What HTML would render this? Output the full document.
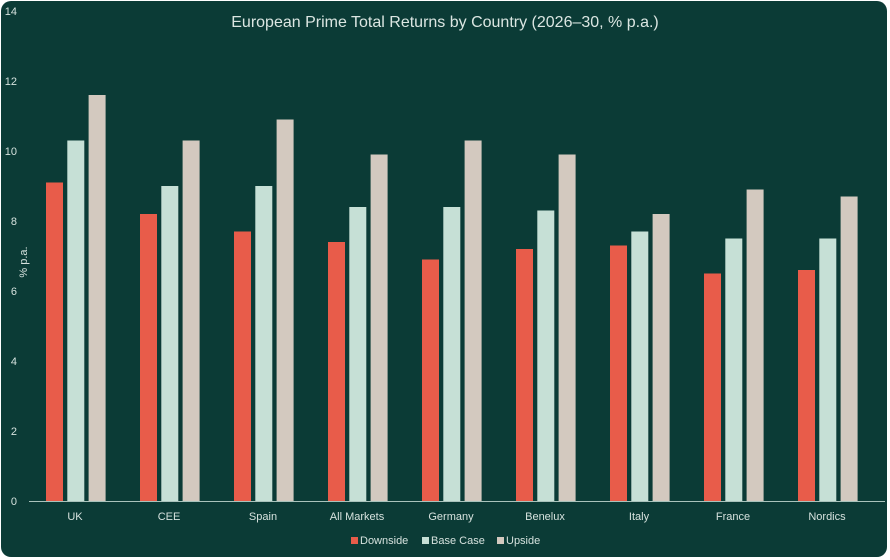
<!DOCTYPE html>
<html><head><style>
body{margin:0;background:#fff;}
.card{position:absolute;left:1px;top:1px;width:886px;height:556px;background:#0b3b36;border-radius:10px;overflow:hidden;}
text{font-family:"Liberation Sans",sans-serif;}
</style></head><body>
<div class="card"></div>
<svg width="890" height="560" style="position:absolute;left:0;top:0">
<text x="445" y="27" text-anchor="middle" fill="#dbe6e2" font-size="16">European Prime Total Returns by Country (2026–30, % p.a.)</text>
<g fill="#d6e2de" font-size="11" text-anchor="end">
<text x="17" y="505">0</text><text x="17" y="435">2</text><text x="17" y="365">4</text><text x="17" y="295">6</text><text x="17" y="225">8</text><text x="17" y="155">10</text><text x="17" y="85">12</text><text x="17" y="15">14</text>
</g>
<text x="27" y="262" fill="#d6e2de" font-size="11" text-anchor="middle" transform="rotate(-90 27 262)">% p.a.</text>
<g id="bars"></g>
<line x1="29" y1="501.5" x2="885" y2="501.5" stroke="#a9c3bc" stroke-width="1"/>
<g fill="#d6e2de" font-size="11" text-anchor="middle">
<text x="75" y="520">UK</text><text x="169" y="520">CEE</text><text x="263" y="520">Spain</text><text x="357" y="520">All Markets</text><text x="451" y="520">Germany</text><text x="545" y="520">Benelux</text><text x="639" y="520">Italy</text><text x="733" y="520">France</text><text x="827" y="520">Nordics</text>
</g>
<g font-size="11" fill="#d6e2de">
<rect x="351" y="537" width="7" height="7" fill="#e85c4a"/><text x="360" y="544">Downside</text>
<rect x="422" y="537" width="7" height="7" fill="#c6e0d6"/><text x="431" y="544">Base Case</text>
<rect x="497" y="537" width="7" height="7" fill="#d3c9bf"/><text x="506" y="544">Upside</text>
</g>
</svg>
<script>
var d=[[9.1,10.3,11.6],[8.2,9.0,10.3],[7.7,9.0,10.9],[7.4,8.4,9.9],[6.9,8.4,10.3],[7.2,8.3,9.9],[7.3,7.7,8.2],[6.5,7.5,8.9],[6.6,7.5,8.7]];
var c=["#e85c4a","#c6e0d6","#d3c9bf"],s="";
d.forEach(function(g,i){var cx=75+i*94;g.forEach(function(v,j){var x=cx-29+j*21.3,h=v*35;s+='<rect x="'+x.toFixed(1)+'" y="'+(501-h).toFixed(1)+'" width="17" height="'+h.toFixed(1)+'" fill="'+c[j]+'"/>';});});
document.getElementById("bars").innerHTML=s;
</script>
</body></html>
